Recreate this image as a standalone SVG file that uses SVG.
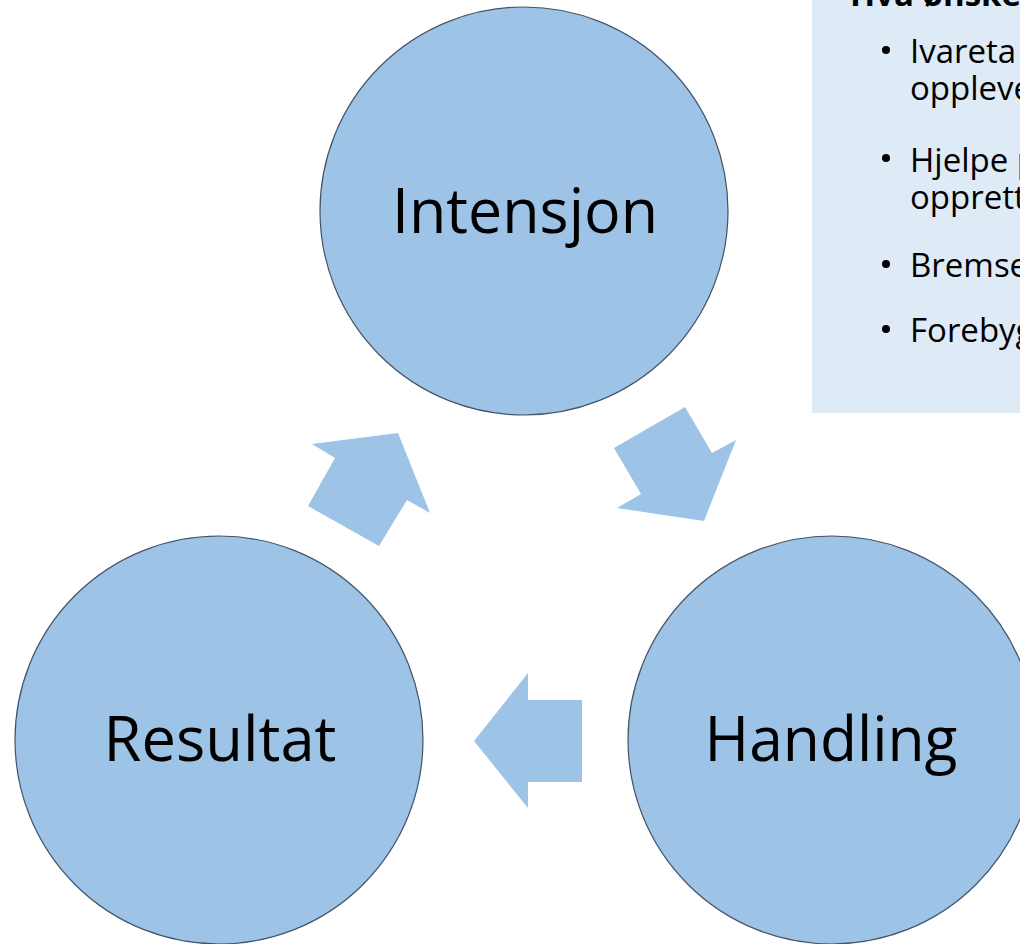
<svg xmlns="http://www.w3.org/2000/svg" width="1020" height="944" viewBox="0 0 1020 944">
<style>
.node{fill:#9dc3e6;stroke:#44546a;stroke-width:1.2}
.arrow{fill:#9dc3e6;stroke:none}
.lbl{font-family:"Open Sans","Liberation Sans",sans-serif;font-size:62px;fill:#000;text-anchor:middle}
.box{fill:#deeaf6}
.t{font-family:"Open Sans","Liberation Sans",sans-serif;font-size:33px;fill:#000}
.tb{font-family:"Open Sans","Liberation Sans",sans-serif;font-size:33px;font-weight:bold;fill:#000}
</style>
<rect width="1020" height="944" fill="#ffffff"/>
<g id="textbox">
<rect class="box" x="812" y="0" width="210" height="413"/>
<text class="tb" x="850" y="6">Hva ønsker</text>
<circle cx="886" cy="50" r="4" fill="#000"/>
<text class="t" x="910" y="63">Ivareta</text>
<text class="t" x="910" y="100">opplever</text>
<circle cx="886" cy="158" r="4" fill="#000"/>
<text class="t" x="910" y="172">Hjelpe p</text>
<text class="t" x="910" y="209">opprett</text>
<circle cx="886" cy="264" r="4" fill="#000"/>
<text class="t" x="910" y="277">Bremse</text>
<circle cx="886" cy="329" r="4" fill="#000"/>
<text class="t" x="910" y="342">Forebygg</text>
</g>
<g id="connectors">
<polygon class="arrow" points="312,444 398,433 430,513 407,500 379,546 308,506 335,458"/>
<polygon class="arrow" points="685,407 712,453 736,440 704,521 617,508 641,494 614,448"/>
<polygon class="arrow" points="528,673 528,700 582,700 582,782 528,782 528,808 474,741"/>
</g>
<g id="intensjon">
<circle class="node" cx="524" cy="211" r="204"/>
<text class="lbl" x="525" y="233" textLength="266" lengthAdjust="spacingAndGlyphs">Intensjon</text>
</g>
<g id="handling">
<circle class="node" cx="832" cy="740" r="204"/>
<text class="lbl" x="831" y="761" textLength="253" lengthAdjust="spacingAndGlyphs">Handling</text>
</g>
<g id="resultat">
<circle class="node" cx="219" cy="740" r="204"/>
<text class="lbl" x="220" y="761" textLength="233" lengthAdjust="spacingAndGlyphs">Resultat</text>
</g>
</svg>
